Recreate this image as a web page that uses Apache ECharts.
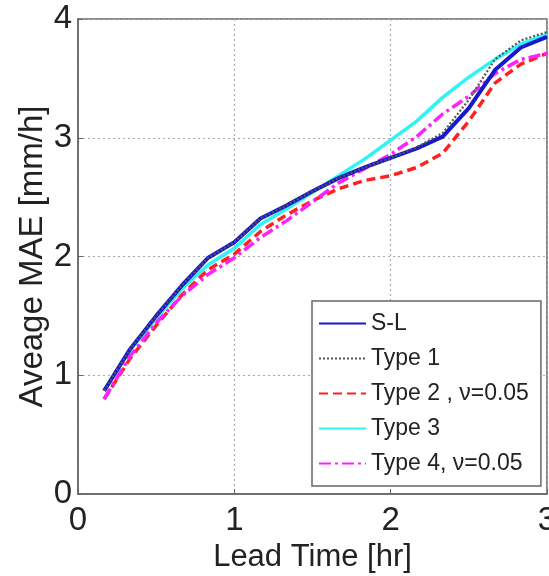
<!DOCTYPE html>
<html><head><meta charset="utf-8">
<script src="https://cdn.jsdelivr.net/npm/echarts@6/dist/echarts.min.js"></script>
<style>html,body{margin:0;padding:0;background:#fff}#c{width:549px;height:576px}</style>
</head><body><div id="c"></div>
<script>
const leadTime = [0.167,0.333,0.5,0.667,0.833,1.0,1.167,1.333,1.5,1.667,1.833,2.0,2.167,2.333,2.5,2.667,2.833,3.0];
const seriesNames = ['S-L','Type 1','Type 2 , \u03bd=0.05','Type 3','Type 4, \u03bd=0.05'];
const sl    = [0.87,1.22,1.50,1.76,1.99,2.12,2.32,2.43,2.55,2.66,2.75,2.83,2.91,3.01,3.25,3.57,3.76,3.85];
const type1 = [0.87,1.22,1.50,1.76,1.99,2.12,2.32,2.43,2.55,2.66,2.75,2.83,2.92,3.04,3.32,3.66,3.82,3.89];
const type2 = [0.80,1.14,1.42,1.68,1.89,2.02,2.21,2.35,2.47,2.57,2.64,2.68,2.75,2.87,3.14,3.46,3.62,3.71];
const type3 = [0.87,1.21,1.48,1.73,1.93,2.07,2.27,2.40,2.54,2.68,2.82,2.98,3.14,3.34,3.51,3.66,3.79,3.87];
const type4 = [0.80,1.16,1.44,1.67,1.85,1.99,2.16,2.30,2.46,2.62,2.74,2.86,3.01,3.20,3.35,3.54,3.66,3.71];
const xTicks = [0,1,2,3];
const yTicks = [0,1,2,3,4];

const pair = arr => leadTime.map((t,i)=>[t,arr[i]]);
const font = 'Liberation Sans, Arial, sans-serif';
const styles = [
  {color:'#1818cc', width:4, type:'solid'},
  {color:'#555555', width:2.2, type:[2,2]},
  {color:'#ff2020', width:3.5, type:[9,5]},
  {color:'#30f4f4', width:3.5, type:'solid'},
  {color:'#ff20ff', width:3.5, type:[12,4,3,4]}
];
const datas = [sl,type1,type2,type3,type4];
const series = datas.map((d,i)=>({
  name: seriesNames[i], type:'line', data: pair(d), symbol:'none', smooth:false,
  lineStyle:{color:styles[i].color, width:styles[i].width, type:styles[i].type},
  itemStyle:{color:styles[i].color},
  z: [3,4,2,1,2][i]
}));

const chart = echarts.init(document.getElementById('c'), null, {renderer:'canvas'});
chart.setOption({
  animation:false,
  backgroundColor:'#fff',
  grid:{left:78, right:2, top:19, bottom:82, containLabel:false, outerBoundsMode:'none',
    show:true, borderColor:'#666', borderWidth:1.5, backgroundColor:'transparent'},
  xAxis:{type:'value', min:xTicks[0], max:xTicks[xTicks.length-1], interval:1,
    name:'Lead Time [hr]', nameLocation:'middle', nameGap:46,
    nameTextStyle:{fontSize:31, color:'#222', fontFamily:font},
    axisLine:{show:true, lineStyle:{color:'#666', width:1.5}},
    axisTick:{show:true, inside:true, length:5, lineStyle:{color:'#666'}},
    axisLabel:{fontSize:33, color:'#222', fontFamily:font, margin:10},
    splitLine:{show:true, lineStyle:{color:'#aaa', type:[2,3], width:1.2}}},
  yAxis:{type:'value', min:yTicks[0], max:yTicks[yTicks.length-1], interval:1,
    name:'Aveage MAE [mm/h]', nameLocation:'middle', nameGap:29, nameMoveOverlap:false,
    nameTextStyle:{fontSize:33, color:'#222', fontFamily:font},
    axisLine:{show:true, lineStyle:{color:'#666', width:1.5}},
    axisTick:{show:true, inside:true, length:5, lineStyle:{color:'#666'}},
    axisLabel:{fontSize:33, color:'#222', fontFamily:font, margin:6},
    splitLine:{show:true, lineStyle:{color:'#aaa', type:[2,3], width:1.2}}},
  legend:{orient:'vertical', left:312, top:301,
    itemWidth:47, itemHeight:14, itemGap:12,
    padding:[11,12,11,6],
    borderColor:'#666', borderWidth:1.5, backgroundColor:'#fff',
    itemStyle:{color:'transparent', borderWidth:0, opacity:0},
    textStyle:{fontSize:23, color:'#222', fontFamily:font, lineHeight:23},
    data: seriesNames},
  series: series
});
</script></body></html>
